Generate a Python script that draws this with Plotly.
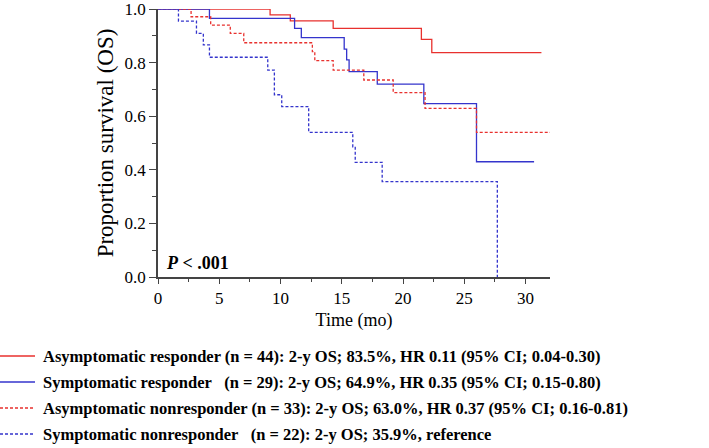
import plotly.graph_objects as go

# Kaplan-Meier step data
t_asym_resp = [0, 9.15, 10.8, 14.3, 21.5, 22.35, 31.3]
s_asym_resp = [1.0, 0.978, 0.956, 0.928, 0.887, 0.837, 0.837]

t_sym_resp = [0, 4.2, 11.15, 11.7, 15.2, 15.4, 15.6, 17.9, 21.7, 26.0, 30.7]
s_sym_resp = [1.0, 0.965, 0.928, 0.893, 0.85, 0.81, 0.766, 0.72, 0.647, 0.43, 0.43]

t_asym_nonresp = [0, 2.7, 4.3, 5.9, 7.0, 12.6, 12.8, 14.3, 16.8, 19.2, 21.8, 26.0, 32.0]
s_asym_nonresp = [1.0, 0.971, 0.94, 0.909, 0.874, 0.841, 0.807, 0.772, 0.735, 0.688, 0.629, 0.54, 0.54]

t_sym_nonresp = [0, 1.67, 3.14, 3.7, 4.2, 8.96, 9.5, 10.1, 12.3, 15.9, 16.1, 18.3, 27.7]
s_sym_nonresp = [1.0, 0.955, 0.909, 0.866, 0.82, 0.772, 0.68, 0.636, 0.54, 0.486, 0.428, 0.356, 0.0]

legend_labels = [
    "Asymptomatic responder (n = 44): 2-y OS; 83.5%, HR 0.11 (95% CI; 0.04-0.30)",
    "Symptomatic responder\u00a0\u00a0\u00a0(n = 29): 2-y OS; 64.9%, HR 0.35 (95% CI; 0.15-0.80)",
    "Asymptomatic nonresponder (n = 33): 2-y OS; 63.0%, HR 0.37 (95% CI; 0.16-0.81)",
    "Symptomatic nonresponder\u00a0\u00a0\u00a0(n = 22): 2-y OS; 35.9%, reference",
]

RED = "#e8312e"
BLUE = "#3434cc"
series = [
    (t_asym_resp, s_asym_resp, RED, "solid"),
    (t_sym_resp, s_sym_resp, BLUE, "solid"),
    (t_asym_nonresp, s_asym_nonresp, RED, "3px,2px"),
    (t_sym_nonresp, s_sym_nonresp, BLUE, "3px,2px"),
]

FONT = "Liberation Serif, Times New Roman, serif"

fig = go.Figure()
for (t, s, c, d), lab in zip(series, legend_labels):
    fig.add_trace(go.Scatter(x=t, y=s, mode="lines", line=dict(color=c, width=1.3, dash=d, shape="hv"),
                             name=lab, showlegend=False, hoverinfo="skip"))

ML, MR, MT, MB = 158, 159, 9, 171
W, H = 709, 448
PW, PH = W - ML - MR, H - MT - MB

def px_x(p):
    return (p - ML) / PW

def px_y(p):
    return (H - MB - p) / PH

legend_y = [356, 382, 408, 434]
for (t, s, c, d), lab, ly in zip(series, legend_labels, legend_y):
    fig.add_shape(type="line", xref="paper", yref="paper",
                  x0=px_x(0), x1=px_x(35), y0=px_y(ly), y1=px_y(ly),
                  line=dict(color=c, width=1.3, dash=d))
    fig.add_annotation(xref="paper", yref="paper", x=px_x(41), y=px_y(ly),
                       xanchor="left", yanchor="middle", showarrow=False,
                       text="<b>" + lab + "</b>", font=dict(family=FONT, size=16.5, color="black"))

fig.add_annotation(xref="paper", yref="paper", x=px_x(164), y=px_y(263),
                   xanchor="left", yanchor="middle", showarrow=False,
                   text="<b><i>P</i> < .001</b>", font=dict(family=FONT, size=18, color="black"))

fig.update_layout(
    width=W, height=H,
    margin=dict(l=ML, r=MR, t=MT, b=MB, autoexpand=False),
    paper_bgcolor="white", plot_bgcolor="white",
    font=dict(family=FONT, size=17, color="black"),
)
fig.update_xaxes(range=[0, 32], showgrid=False, zeroline=False, showline=True, linecolor="#444", linewidth=1.5,
                 ticks="outside", ticklen=5, tickwidth=1, tickcolor="#444", tick0=0, dtick=5,
                 minor=dict(dtick=2.5, ticklen=3, tickcolor="#444", ticks="outside"),
                 tickfont=dict(family=FONT, size=17), ticklabeloverflow="allow", automargin=False,
                 title=dict(text="Time (mo)", font=dict(family=FONT, size=18), standoff=6))
fig.update_yaxes(range=[0, 1], showgrid=False, zeroline=False, showline=True, linecolor="#444", linewidth=1.5,
                 ticks="outside", ticklen=7, tickwidth=1, tickcolor="#444", tick0=0, dtick=0.2,
                 tickformat=".1f", ticklabeloverflow="allow", automargin=False,
                 minor=dict(dtick=0.1, ticklen=4, tickcolor="#444", ticks="outside"),
                 tickfont=dict(family=FONT, size=17),
                 title=dict(text="Proportion survival (OS)", font=dict(family=FONT, size=23), standoff=5))

fig.write_html("out.html", post_script="document.body.style.margin='0';",
               config={"displayModeBar": False})
